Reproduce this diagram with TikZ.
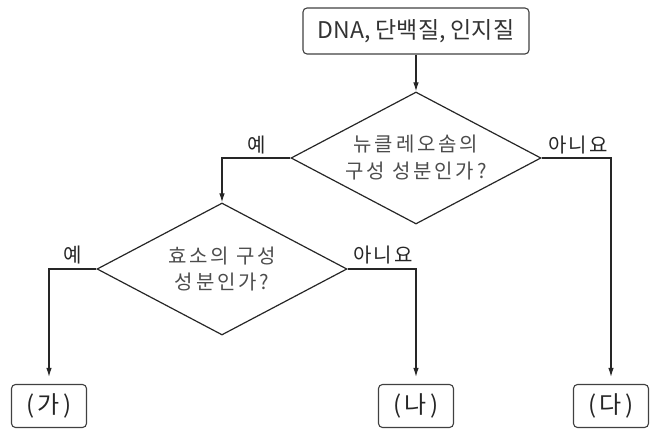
\documentclass[tikz,border=0pt]{standalone}
\usepackage{fontspec}
\setmainfont{Noto Sans CJK KR}
\newfontfamily\krB[LetterSpace=14]{Noto Sans CJK KR}
\newfontfamily\krL[LetterSpace=11]{Noto Sans CJK KR}
\newfontfamily\krC[LetterSpace=14]{Noto Sans CJK KR}
\usetikzlibrary{shapes.geometric,arrows.meta}
\tikzset{
  conn/.style={line width=1.2pt, draw=black!85},
  arr/.style={conn, -{Latex[length=9pt,width=5.5pt]}},
  startbox/.style={draw=black!75, line width=1.1pt, rounded corners=4pt, minimum width=226pt, minimum height=46pt, inner sep=0pt, font=\fontsize{23}{26}\selectfont, text=black!80},
  endbox/.style={draw=black!75, line width=1.1pt, rounded corners=4pt, minimum width=75pt, minimum height=43pt, inner sep=0pt, font=\krC\fontsize{24}{28}\selectfont, text=black!85},
  decision/.style={diamond, draw=black!85, line width=1.2pt, aspect=1.9, minimum width=250pt, minimum height=132pt, inner sep=0pt, align=center, font=\krB\fontsize{20}{27}\selectfont, text=black!70},
  lbl/.style={anchor=south, inner sep=1pt, font=\krL\fontsize{20}{22}\selectfont, text=black!85}
}
\begin{document}
\begin{tikzpicture}[x=1pt,y=-1pt]
\useasboundingbox (0,0) rectangle (654,433);
\node[startbox] (top) at (416,31) {DNA, 단백질, 인지질};
\node[decision] (d1) at (416,158) {뉴클레오솜의\\구성 성분인가?};
\node[decision] (d2) at (222,269) {효소의 구성\\성분인가?};
\node[endbox] (ga) at (49,406) {(가)};
\node[endbox] (na) at (416,406) {(나)};
\node[endbox] (da) at (611,406) {(다)};
\draw[arr] (top.south) -- (d1.north);
\draw[arr] (d1.west) -| (d2.north);
\draw[arr, shorten >=7pt] (d2.west) -| (ga.north);
\draw[arr, shorten >=7pt] (d2.east) -| (na.north);
\draw[arr, shorten >=7pt] (d1.east) -| (da.north);
\node[lbl] (l1) at (257,155) {예};
\node[lbl] (l2) at (578,155) {아니요};
\node[lbl] (l3) at (73,265) {예};
\node[lbl] (l4) at (383,265) {아니요};
\end{tikzpicture}
\end{document}
